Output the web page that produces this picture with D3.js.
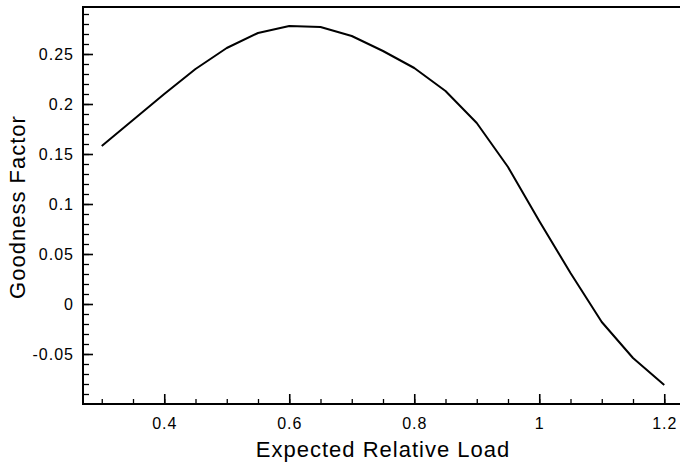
<!DOCTYPE html>
<html>
<head>
<meta charset="utf-8">
<script src="https://cdn.jsdelivr.net/npm/d3@7"></script>
<style>
    body { margin: 0; background: #fff; }
    text { font-family: "Liberation Sans", Arial, Helvetica, sans-serif; fill: #000; }
</style>
</head>
<body>
<div id="chart"></div>
<script>
// expected relative load (x) and goodness factor (y)
const loads = [0.3, 0.35, 0.4, 0.45, 0.5, 0.55, 0.6, 0.65, 0.7, 0.75, 0.8, 0.85, 0.9, 0.95, 1.0, 1.05, 1.1, 1.15, 1.2];
const goodness = [0.158, 0.184, 0.210, 0.235, 0.256, 0.271, 0.278, 0.277, 0.268, 0.253, 0.236, 0.213, 0.181, 0.137, 0.083, 0.031, -0.018, -0.054, -0.081];

const xTicks = [0.4, 0.6, 0.8, 1, 1.2];
const yTicks = [-0.05, 0, 0.05, 0.1, 0.15, 0.2, 0.25];

const xLabel = "Expected Relative Load";
const yLabel = "Goodness Factor";

// margins - right edge of the frame runs just past the window
var margin = {top: 7, right: -3, bottom: 62, left: 83},
    width = 680 - margin.left - margin.right,
    height = 466 - margin.top - margin.bottom;

var x = d3.scaleLinear().domain([0.27, 1.23]).range([0, width]);
var y = d3.scaleLinear().domain([-0.1, 0.297]).range([height, 0]);

var svg = d3.select("#chart").append("svg")
        .attr("width", 680)
        .attr("height", 466)
    .append("g")
        .attr("transform", `translate(${margin.left}, ${margin.top})`);

// minor ticks first
svg.append("g")
    .attr("transform", `translate(0, ${height})`)
    .call(d3.axisBottom(x).tickValues(d3.range(0.3, 1.21, 0.05)).tickSizeInner(-5).tickSizeOuter(0).tickFormat(""))
    .call(g => g.select(".domain").remove())
    .selectAll("line").attr("stroke-width", 1.3);

svg.append("g")
    .call(d3.axisLeft(y).tickValues(d3.range(-0.09, 0.295, 0.01)).tickSizeInner(-6).tickSizeOuter(0).tickFormat(""))
    .call(g => g.select(".domain").remove())
    .selectAll("line").attr("stroke-width", 1.3);

// major ticks + labels
var xAxis = svg.append("g")
    .attr("transform", `translate(0, ${height})`)
    .call(d3.axisBottom(x).tickValues(xTicks).tickSizeInner(-10).tickSizeOuter(0).tickPadding(14).tickFormat(d => String(d)));
xAxis.select(".domain").remove();
xAxis.selectAll("line").attr("stroke-width", 1.6);
xAxis.selectAll("text")
    .attr("font-size", 16)
    .attr("font-family", null)
    .style("letter-spacing", "1px");

var yAxis = svg.append("g")
    .call(d3.axisLeft(y).tickValues(yTicks).tickSizeInner(-10).tickSizeOuter(0).tickPadding(9).tickFormat(d => String(d)));
yAxis.select(".domain").remove();
yAxis.selectAll("line").attr("stroke-width", 1.6);
yAxis.selectAll("text")
    .attr("font-size", 16)
    .style("letter-spacing", "1px");

// frame
svg.append("rect")
    .attr("width", width)
    .attr("height", height)
    .attr("fill", "none")
    .attr("stroke", "#000")
    .attr("stroke-width", 2);

// the curve
var line = d3.line()
    .x((d, i) => x(loads[i]))
    .y(d => y(d));

svg.append("path")
    .datum(goodness)
    .attr("fill", "none")
    .attr("stroke", "#000")
    .attr("stroke-width", 2)
    .attr("stroke-linejoin", "round")
    .attr("d", line);

// axis titles
svg.append("text")
    .attr("x", 300)
    .attr("y", height + 53)
    .attr("text-anchor", "middle")
    .attr("font-size", 22)
    .style("letter-spacing", "1px")
    .text(xLabel);

svg.append("text")
    .attr("transform", "rotate(-90)")
    .attr("x", -200)
    .attr("y", -58)
    .attr("text-anchor", "middle")
    .attr("font-size", 22)
    .style("letter-spacing", "1px")
    .text(yLabel);
</script>
</body>
</html>
